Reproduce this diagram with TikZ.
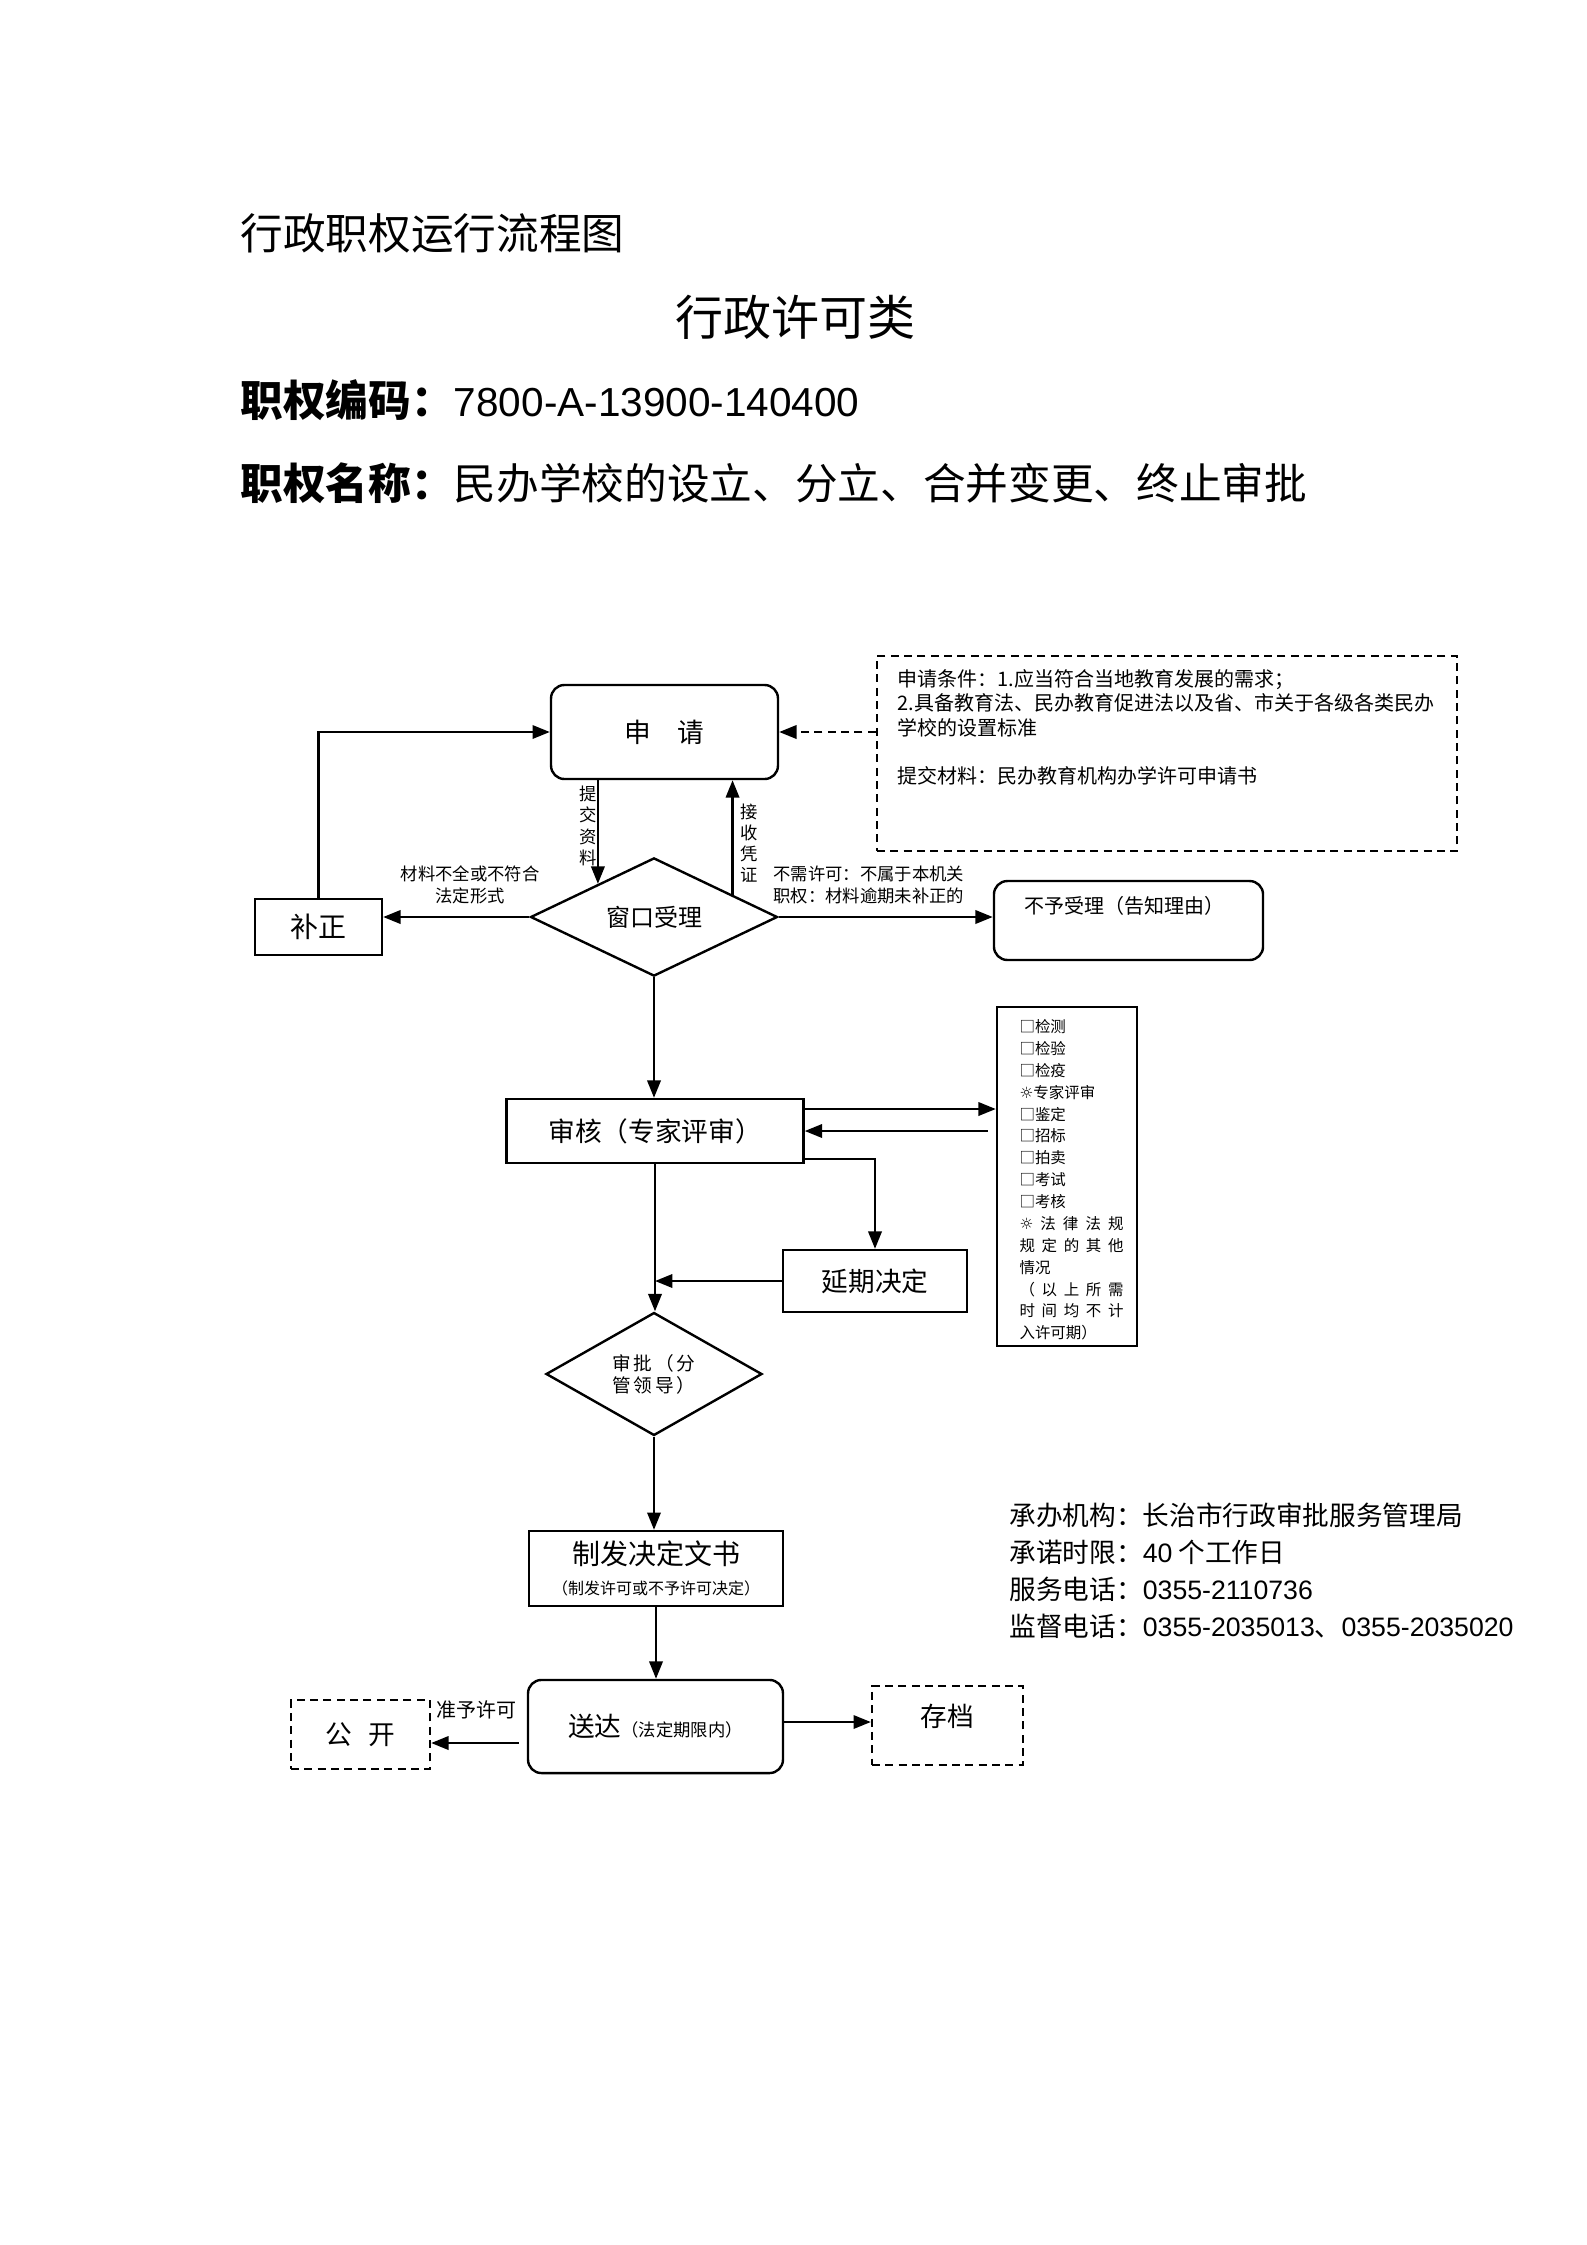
\documentclass[tikz,border=0pt]{standalone}
\usepackage{fontspec}
\setmainfont{Noto Sans CJK SC}
\newfontfamily\symf{DejaVu Sans}
\newfontfamily\numf{Liberation Sans}
\usetikzlibrary{shapes.geometric,arrows.meta,calc}
\newcommand\myfs[2]{\fontsize{#1}{#2}\selectfont}
\tikzset{
 box/.style={draw, line width=0.9pt, inner sep=0pt, align=center},
 rbox/.style={box, rounded corners=5pt},
 dbox/.style={draw, line width=0.9pt, dash pattern=on 3pt off 2pt, inner sep=0pt, align=center},
 dia/.style={draw, diamond, line width=0.9pt, inner sep=0pt, align=center},
 arr/.style={line width=0.9pt, -{Triangle[length=6.5pt,width=5pt]}},
 darr/.style={arr, dash pattern=on 3pt off 2pt},
 lbl/.style={inner sep=0pt, align=center},
}
\begin{document}
\begin{tikzpicture}[x=0.375pt,y=-0.375pt]
\useasboundingbox (0,0) rectangle (1587,2245);
% header
\node[lbl, anchor=west, font=\myfs{16}{19}] (title) at (240,233) {行政职权运行流程图};
\node[lbl, font=\myfs{18}{22}] (cat) at (795,317) {行政许可类};
\node[lbl, anchor=west, font=\myfs{16}{19}] (code) at (240,400) {\bfseries 职权编码：\mdseries{\numf\myfs{15.2}{19}7800-A-13900-140400}};
\node[lbl, anchor=west, font=\myfs{16}{19}] (name) at (240,483) {\bfseries 职权名称：\mdseries 民办学校的设立、分立、合并变更、终止审批};
% apply
\node[rbox, minimum width=85.1pt, minimum height=35.25pt, font=\myfs{10}{12}] (sq) at (664.5,732) {申\hspace{1em}请};
\node[dbox, minimum width=217.5pt, minimum height=73.1pt] (cond) at (1167,753.5) {};
\node[lbl, anchor=north west, align=left, font=\myfs{7.5}{9.1}] (condtxt) at (897,669) {申请条件：1.应当符合当地教育发展的需求；\\2.具备教育法、民办教育促进法以及省、市关于各级各类民办\\学校的设置标准\\[9.1pt]提交材料：民办教育机构办学许可申请书};
\draw[darr] (cond.west |- sq.east) -- (sq.east);
% window
\node[dia, minimum width=92.6pt, minimum height=38.6pt, font=\myfs{9}{11}] (ck) at (654,917) {窗口受理};
\node[box, minimum width=47.6pt, minimum height=21pt, font=\myfs{10.5}{12}] (bz) at (318.5,927) {补正};
\draw[arr] (ck.west) -- (ck.west -| bz.east);
\draw[arr] (bz.north) |- (sq.west);
\node[lbl, font=\myfs{6.5}{8.3}] (lb1) at (470,885) {材料不全或不符合\\法定形式};
\coordinate (p1) at ($(ck.west)!0.55!(ck.north)$);
\draw[arr] (sq.south -| p1) -- (p1);
\coordinate (p2) at ($(ck.east)!0.37!(ck.north)$);
\draw[arr] (p2) -- (p2 |- sq.south);
\node[lbl, font=\myfs{6.5}{8.1}] (lb2) at (588,826) {提\\交\\资\\料};
\node[lbl, font=\myfs{6.5}{7.9}] (lb3) at (749,843) {接\\收\\凭\\证};
\node[rbox, minimum width=100.9pt, minimum height=29.6pt] (by) at (1128.5,920.5) {};
\node[lbl, font=\myfs{7.5}{9}] (bytxt) at (1124,906) {不予受理（告知理由）};
\draw[arr] (ck.east) -- (ck.east -| by.west);
\node[lbl, anchor=west, align=left, font=\myfs{6.5}{8.3}] (lb4) at (773,885) {不需许可：不属于本机关\\职权：材料逾期未补正的};
% review
\node[box, minimum width=111.4pt, minimum height=24pt, font=\myfs{10}{12}] (sh) at (655,1131) {审核（专家评审）};
\draw[arr] (ck.south) -- (ck.south |- sh.north);
\node[box, minimum width=52.5pt, minimum height=127.1pt] (lst) at (1067,1176.5) {};
\node[lbl, anchor=north west, align=left, font=\myfs{5.8}{8.2}] (lsttxt) at (1019,1019) {□检测\\□检验\\□检疫\\{\symf ☼}专家评审\\□鉴定\\□招标\\□拍卖\\□考试\\□考核\\\makebox[39pt][s]{{\symf ☼}\hfill 法\hfill 律\hfill 法\hfill 规}\\\makebox[39pt][s]{规\hfill 定\hfill 的\hfill 其\hfill 他}\\情况\\\makebox[39pt][s]{（\hfill 以\hfill 上\hfill 所\hfill 需}\\\makebox[39pt][s]{时\hfill 间\hfill 均\hfill 不\hfill 计}\\入许可期）};
\coordinate (r1) at (0,1109);
\coordinate (r2) at (0,1131);
\coordinate (r3) at (0,1159);
\draw[arr] (sh.east |- r1) -- (lst.west |- r1);
\draw[arr, shorten <=3pt] (lst.west |- r2) -- (sh.east |- r2);
\node[box, minimum width=69pt, minimum height=23.25pt, font=\myfs{10}{12}] (yq) at (875,1281) {延期决定};
\draw[arr] (sh.east |- r3) -| (yq.north);
\draw[arr] (yq.west) -- (yq.west -| sh.south);
% approve
\node[dia, minimum width=81pt, minimum height=40.9pt, align=left, font=\myfs{7}{8.3}\addfontfeature{LetterSpace=15}] (sp) at (654,1374) {审批（分\\管领导）};
\draw[arr] (sh.south) -- (sh.south |- sp.north);
\node[box, minimum width=95.25pt, minimum height=28.1pt, font=\myfs{6}{11}] (zf) at (656,1568.5) {{\myfs{10.5}{11}制发决定文书}\\（制发许可或不予许可决定）};
\draw[arr] (sp.south) -- (sp.south |- zf.north);
\node[rbox, minimum width=95.6pt, minimum height=34.9pt, font=\myfs{10}{12}] (sd) at (655.5,1726.5) {送达{\myfs{6.5}{8}（法定期限内）}};
\draw[arr] (zf.south) -- (zf.south |- sd.north);
\node[dbox, minimum width=52.1pt, minimum height=25.9pt, font=\myfs{10}{12}] (gk) at (360.5,1734.5) {公\hspace{0.6em}开};
\coordinate (r4) at (0,1743);
\draw[arr, shorten <=3pt] (sd.west |- r4) -- (gk.east |- r4);
\node[lbl, font=\myfs{7.5}{9}] (lb5) at (476,1710) {准予许可};
\node[dbox, minimum width=56.6pt, minimum height=29.6pt] (cd) at (947.5,1725.5) {};
\node[lbl, font=\myfs{10}{12}] (cdtxt) at (947.5,1716) {存档};
\coordinate (r5) at (0,1722);
\draw[arr] (sd.east |- r5) -- (cd.west |- r5);
% info
\node[lbl, anchor=north west, align=left, font=\myfs{10}{13.9}] (info) at (1009,1502) {承办机构：长治市行政审批服务管理局\\承诺时限：{\numf 40} 个工作日\\服务电话：{\numf 0355-2110736}\\监督电话：{\numf 0355-2035013}、{\numf 0355-2035020}};
\end{tikzpicture}
\end{document}
